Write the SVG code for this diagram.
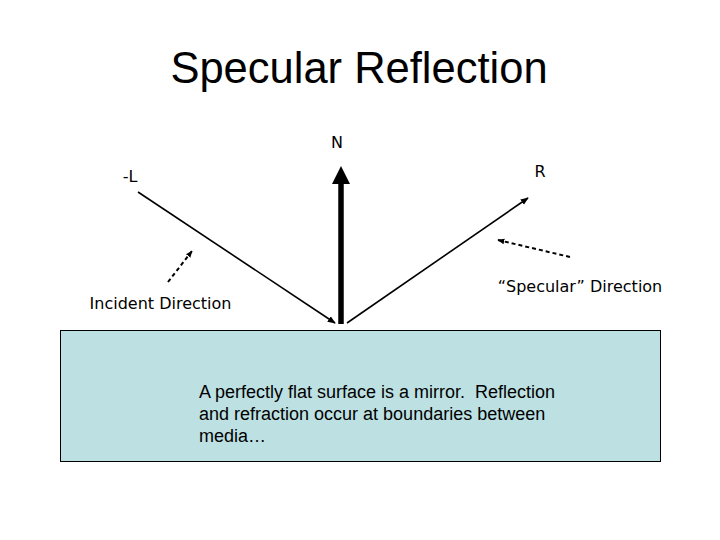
<svg xmlns="http://www.w3.org/2000/svg" width="720" height="540" viewBox="0 0 720 540">
<style>
.lbl{font-family:"DejaVu Sans","Liberation Sans",sans-serif;font-size:16px;fill:#000}
.body{font-family:"Liberation Sans",Arial,sans-serif;font-size:18px;fill:#000}
.vec{stroke:#000;stroke-width:1.6;fill:none}
.dash{stroke:#000;stroke-width:2;stroke-dasharray:4,3;fill:none}
</style>
<defs>
<marker id="ah" viewBox="0 0 10 10" refX="9" refY="5" markerWidth="8" markerHeight="8" markerUnits="userSpaceOnUse" orient="auto"><path d="M0,1 L10,5 L0,9 z" fill="#000"/></marker>
<marker id="ahd" viewBox="0 0 10 10" refX="9" refY="5" markerWidth="7" markerHeight="7" markerUnits="userSpaceOnUse" orient="auto"><path d="M0,1 L10,5 L0,9 z" fill="#000"/></marker>
</defs>
<rect width="720" height="540" fill="#fff"/>
<text x="359" y="83" text-anchor="middle" font-family="Liberation Sans,Arial,sans-serif" font-size="43.5">Specular Reflection</text>
<g id="surface">
<rect x="60.5" y="330.5" width="600" height="131" fill="#bde0e3" stroke="#000" stroke-width="1"/>
<text class="body" xml:space="preserve"><tspan x="199" y="398">A perfectly flat surface is a mirror.  Reflection</tspan><tspan x="199" y="420">and refraction occur at boundaries between</tspan><tspan x="199" y="442">media…</tspan></text>
</g>
<g id="labels">
<text class="lbl" x="337" y="148" text-anchor="middle">N</text>
<text class="lbl" x="130" y="182" text-anchor="middle">-L</text>
<text class="lbl" x="540" y="177" text-anchor="middle">R</text>
<text class="lbl" x="160.5" y="309" text-anchor="middle">Incident Direction</text>
<text class="lbl" x="580" y="292" text-anchor="middle">“Specular” Direction</text>
</g>
<g id="connectors">
<line x1="138" y1="192" x2="335" y2="323" class="vec" marker-end="url(#ah)"/>
<line x1="347" y1="323" x2="528" y2="198" class="vec" marker-end="url(#ah)"/>
<line x1="341" y1="324" x2="341" y2="182" stroke="#000" stroke-width="5.5"/>
<path d="M341,166 L350,184 L332,184 z" fill="#000"/>
<line x1="168" y1="282" x2="192" y2="251" class="dash" marker-end="url(#ahd)"/>
<line x1="570" y1="257" x2="498" y2="240" class="dash" marker-end="url(#ahd)"/>
</g>
</svg>
